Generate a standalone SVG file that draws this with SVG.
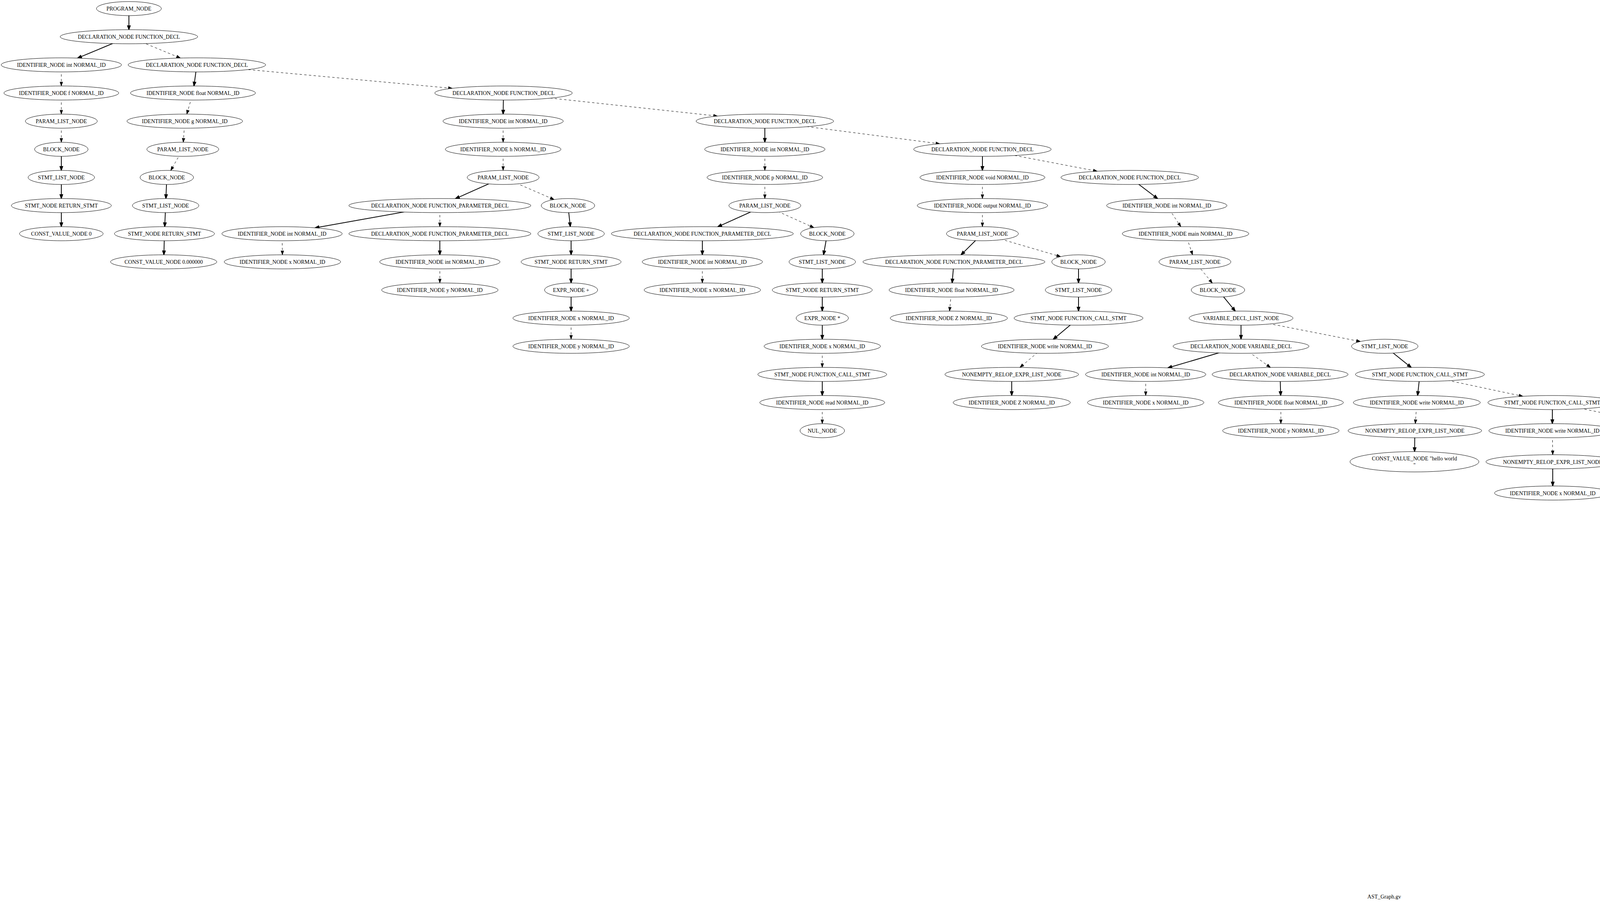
<svg xmlns="http://www.w3.org/2000/svg" width="7087" height="2313" viewBox="0 0 7087 2313">
<style>
.node ellipse{fill:#fff;stroke:#000;stroke-width:1}
.node text,.lbl{font-family:"Liberation Serif","Times New Roman",serif;font-size:14px;text-anchor:middle;fill:#000}
.e{stroke:#000;fill:none}
.s{stroke-width:2;marker-end:url(#as)}
.d{stroke-width:1;stroke-dasharray:6,6;marker-end:url(#ad)}
</style>
<defs>
<marker id="as" markerWidth="10" markerHeight="7" refX="10" refY="3.5" orient="auto" markerUnits="userSpaceOnUse" overflow="visible"><path d="M0,0L10,3.5L0,7z" fill="#000" stroke="#000" stroke-width="2" stroke-linejoin="miter"/></marker>
<marker id="ad" markerWidth="10" markerHeight="7" refX="10" refY="3.5" orient="auto" markerUnits="userSpaceOnUse" overflow="visible"><path d="M0,0L10,3.5L0,7z" fill="#000" stroke="#000" stroke-width="1"/></marker>
</defs>
<rect x="0" y="0" width="7087" height="2313" fill="#fff"/>
<g id="edges">
<line class="e s" x1="330" y1="22" x2="330" y2="76"/>
<line class="e s" x1="330" y1="94" x2="198.6" y2="148.7"/>
<line class="e d" x1="330" y1="94" x2="461.8" y2="148.5"/>
<line class="e d" x1="157" y1="166" x2="157" y2="220"/>
<line class="e d" x1="157" y1="238" x2="157" y2="292"/>
<line class="e d" x1="157" y1="310" x2="157" y2="364"/>
<line class="e s" x1="157" y1="382" x2="157" y2="436"/>
<line class="e s" x1="157" y1="454" x2="157" y2="508"/>
<line class="e s" x1="157" y1="526" x2="157" y2="580"/>
<line class="e s" x1="504" y1="166" x2="496.5" y2="220"/>
<line class="e d" x1="504" y1="166" x2="1158" y2="226"/>
<line class="e d" x1="494" y1="238" x2="478.2" y2="292"/>
<line class="e d" x1="473" y1="310" x2="469.2" y2="364"/>
<line class="e d" x1="468" y1="382" x2="437.1" y2="436.2"/>
<line class="e s" x1="427" y1="454" x2="424.7" y2="508"/>
<line class="e s" x1="424" y1="526" x2="421.7" y2="580"/>
<line class="e s" x1="421" y1="598" x2="419.5" y2="652"/>
<line class="e s" x1="1289" y1="238" x2="1288" y2="292"/>
<line class="e d" x1="1289" y1="238" x2="1836.8" y2="297"/>
<line class="e d" x1="1288" y1="310" x2="1288" y2="364"/>
<line class="e d" x1="1288" y1="382" x2="1288" y2="436"/>
<line class="e s" x1="1288" y1="454" x2="1165.9" y2="508.3"/>
<line class="e d" x1="1288" y1="454" x2="1418.5" y2="510.6"/>
<line class="e s" x1="1126" y1="526" x2="806.5" y2="582.9"/>
<line class="e d" x1="1126" y1="526" x2="1126" y2="580"/>
<line class="e d" x1="722" y1="598" x2="723" y2="652"/>
<line class="e s" x1="1126" y1="598" x2="1126" y2="652"/>
<line class="e d" x1="1126" y1="670" x2="1126" y2="724"/>
<line class="e s" x1="1454" y1="526" x2="1460" y2="580"/>
<line class="e s" x1="1462" y1="598" x2="1462" y2="652"/>
<line class="e s" x1="1462" y1="670" x2="1462" y2="724"/>
<line class="e s" x1="1462" y1="742" x2="1462" y2="796"/>
<line class="e d" x1="1462" y1="814" x2="1462" y2="868"/>
<line class="e s" x1="1958" y1="310" x2="1958" y2="364"/>
<line class="e d" x1="1958" y1="310" x2="2405.8" y2="367.9"/>
<line class="e d" x1="1958" y1="382" x2="1958" y2="436"/>
<line class="e d" x1="1958" y1="454" x2="1958" y2="508"/>
<line class="e s" x1="1958" y1="526" x2="1837.4" y2="580.3"/>
<line class="e d" x1="1958" y1="526" x2="2083.5" y2="582.5"/>
<line class="e s" x1="1798" y1="598" x2="1798" y2="652"/>
<line class="e d" x1="1798" y1="670" x2="1798" y2="724"/>
<line class="e s" x1="2118" y1="598" x2="2108.2" y2="652"/>
<line class="e s" x1="2105" y1="670" x2="2105" y2="724"/>
<line class="e s" x1="2105" y1="742" x2="2105" y2="796"/>
<line class="e s" x1="2105" y1="814" x2="2105" y2="868"/>
<line class="e d" x1="2105" y1="886" x2="2105" y2="940"/>
<line class="e s" x1="2105" y1="958" x2="2105" y2="1012"/>
<line class="e d" x1="2105" y1="1030" x2="2105" y2="1084"/>
<line class="e s" x1="2515" y1="382" x2="2515" y2="436"/>
<line class="e d" x1="2515" y1="382" x2="2808.9" y2="438.1"/>
<line class="e d" x1="2515" y1="454" x2="2515" y2="508"/>
<line class="e d" x1="2515" y1="526" x2="2515" y2="580"/>
<line class="e s" x1="2515" y1="598" x2="2460.2" y2="652.1"/>
<line class="e d" x1="2515" y1="598" x2="2715.2" y2="656.6"/>
<line class="e s" x1="2442" y1="670" x2="2437.5" y2="724"/>
<line class="e d" x1="2436" y1="742" x2="2430.8" y2="796"/>
<line class="e s" x1="2761" y1="670" x2="2761" y2="724"/>
<line class="e s" x1="2761" y1="742" x2="2761" y2="796"/>
<line class="e s" x1="2761" y1="814" x2="2696.3" y2="868.2"/>
<line class="e d" x1="2675" y1="886" x2="2611.1" y2="940.1"/>
<line class="e s" x1="2590" y1="958" x2="2590" y2="1012"/>
<line class="e s" x1="2892" y1="454" x2="2963.5" y2="508.2"/>
<line class="e d" x1="2987" y1="526" x2="3023" y2="580.1"/>
<line class="e d" x1="3035" y1="598" x2="3053" y2="652"/>
<line class="e d" x1="3059" y1="670" x2="3103.6" y2="724.4"/>
<line class="e s" x1="3118" y1="742" x2="3162.3" y2="796.1"/>
<line class="e s" x1="3177" y1="814" x2="3177" y2="868"/>
<line class="e d" x1="3177" y1="814" x2="3482.6" y2="873.8"/>
<line class="e s" x1="3177" y1="886" x2="2989.7" y2="941.3"/>
<line class="e d" x1="3177" y1="886" x2="3252.3" y2="940.2"/>
<line class="e d" x1="2933" y1="958" x2="2933" y2="1012"/>
<line class="e s" x1="3277" y1="958" x2="3278.5" y2="1012"/>
<line class="e d" x1="3279" y1="1030" x2="3279" y2="1084"/>
<line class="e s" x1="3545" y1="886" x2="3612.7" y2="940.2"/>
<line class="e s" x1="3635" y1="958" x2="3629" y2="1012"/>
<line class="e d" x1="3635" y1="958" x2="3898.6" y2="1014"/>
<line class="e d" x1="3627" y1="1030" x2="3623.2" y2="1084"/>
<line class="e s" x1="3622" y1="1102" x2="3621.3" y2="1155.5"/>
<line class="e s" x1="3974" y1="1030" x2="3974" y2="1084"/>
<line class="e d" x1="3974" y1="1030" x2="4248.3" y2="1086.1"/>
<line class="e d" x1="3974" y1="1102" x2="3975" y2="1163.5"/>
<line class="e s" x1="3975" y1="1181.5" x2="3975" y2="1243.5"/>
<line class="e s" x1="4326" y1="1102" x2="4325.2" y2="1163.5"/>
<line class="e d" x1="4326" y1="1102" x2="4602.9" y2="1165.3"/>
<line class="e d" x1="4325" y1="1181.5" x2="4324.2" y2="1243.5"/>
<line class="e s" x1="4324" y1="1261.5" x2="4324" y2="1315.5"/>
<line class="e s" x1="4674" y1="1181.5" x2="4674" y2="1243.5"/>
<line class="e d" x1="4674" y1="1181.5" x2="4952.9" y2="1245.3"/>
<line class="e d" x1="4674" y1="1261.5" x2="4671.7" y2="1315.5"/>
<line class="e s" x1="4671" y1="1333.5" x2="4671" y2="1387.5"/>
<line class="e s" x1="4671" y1="1405.5" x2="4670.2" y2="1459.5"/>
<line class="e d" x1="4670" y1="1477.5" x2="4670" y2="1531.5"/>
<line class="e s" x1="5024" y1="1261.5" x2="5024" y2="1315.5"/>
<line class="e d" x1="5024" y1="1261.5" x2="5294.8" y2="1318.7"/>
<line class="e d" x1="5024" y1="1333.5" x2="5024" y2="1387.5"/>
<line class="e s" x1="5024" y1="1405.5" x2="5018.7" y2="1459.5"/>
<line class="e s" x1="5017" y1="1477.5" x2="5017.8" y2="1531.5"/>
<line class="e d" x1="5018" y1="1549.5" x2="5017.2" y2="1603.5"/>
<line class="e s" x1="5365" y1="1333.5" x2="5365" y2="1387.5"/>
<line class="e d" x1="5365" y1="1333.5" x2="5636.1" y2="1389.6"/>
<line class="e d" x1="5365" y1="1405.5" x2="5365" y2="1459.5"/>
<line class="e s" x1="5365" y1="1477.5" x2="5365" y2="1531.5"/>
<line class="e d" x1="5365" y1="1549.5" x2="5364.2" y2="1603.5"/>
<line class="e s" x1="5713" y1="1405.5" x2="5712.2" y2="1459.5"/>
<line class="e d" x1="5713" y1="1405.5" x2="5979.4" y2="1462.6"/>
<line class="e d" x1="5712" y1="1477.5" x2="5712" y2="1531.5"/>
<line class="e s" x1="5712" y1="1549.5" x2="5712" y2="1603.5"/>
<line class="e s" x1="6049" y1="1477.5" x2="6049" y2="1531.5"/>
<line class="e d" x1="6049" y1="1477.5" x2="6316.7" y2="1533.5"/>
<line class="e d" x1="6049" y1="1549.5" x2="6047.5" y2="1603.5"/>
<line class="e s" x1="6047" y1="1621.5" x2="6047" y2="1675.5"/>
<line class="e d" x1="6047" y1="1693.5" x2="6047" y2="1747.5"/>
<line class="e s" x1="6393" y1="1549.5" x2="6393" y2="1603.5"/>
<line class="e d" x1="6393" y1="1549.5" x2="6667.3" y2="1605.6"/>
<line class="e d" x1="6393" y1="1621.5" x2="6393" y2="1675.5"/>
<line class="e s" x1="6393" y1="1693.5" x2="6393" y2="1747.5"/>
<line class="e s" x1="6745" y1="1621.5" x2="6745" y2="1675.5"/>
<line class="e d" x1="6745" y1="1693.5" x2="6745" y2="1747.5"/>
<line class="e s" x1="6745" y1="1765.5" x2="6745" y2="1819.5"/>
<line class="e s" x1="6745" y1="1837.5" x2="6745" y2="1891.5"/>
<line class="e d" x1="6745" y1="1909.5" x2="6745" y2="1963.5"/>
<line class="e s" x1="6745" y1="1981.5" x2="6745" y2="2035.5"/>
<line class="e s" x1="6745" y1="2053.5" x2="6615.3" y2="2108.1"/>
<line class="e d" x1="6745" y1="2053.5" x2="6875.4" y2="2108.1"/>
<line class="e d" x1="6574" y1="2125.5" x2="6574" y2="2179.5"/>
<line class="e s" x1="6917" y1="2125.5" x2="6917" y2="2179.5"/>
<line class="e d" x1="6917" y1="2197.5" x2="6917" y2="2251.5"/>
</g>
<g id="n0" class="node"><ellipse cx="330" cy="22" rx="83" ry="18"/><text x="330" y="27">PROGRAM_NODE</text></g>
<g id="n1" class="node"><ellipse cx="330" cy="94" rx="176" ry="18"/><text x="330" y="99">DECLARATION_NODE FUNCTION_DECL</text></g>
<g id="n2" class="node"><ellipse cx="157" cy="166" rx="154" ry="18"/><text x="157" y="171">IDENTIFIER_NODE int NORMAL_ID</text></g>
<g id="n3" class="node"><ellipse cx="504" cy="166" rx="176" ry="18"/><text x="504" y="171">DECLARATION_NODE FUNCTION_DECL</text></g>
<g id="n4" class="node"><ellipse cx="157" cy="238" rx="147" ry="18"/><text x="157" y="243">IDENTIFIER_NODE f NORMAL_ID</text></g>
<g id="n5" class="node"><ellipse cx="494" cy="238" rx="160" ry="18"/><text x="494" y="243">IDENTIFIER_NODE float NORMAL_ID</text></g>
<g id="n6" class="node"><ellipse cx="1289" cy="238" rx="176" ry="18"/><text x="1289" y="243">DECLARATION_NODE FUNCTION_DECL</text></g>
<g id="n7" class="node"><ellipse cx="157" cy="310" rx="92" ry="18"/><text x="157" y="315">PARAM_LIST_NODE</text></g>
<g id="n8" class="node"><ellipse cx="473" cy="310" rx="148" ry="18"/><text x="473" y="315">IDENTIFIER_NODE g NORMAL_ID</text></g>
<g id="n9" class="node"><ellipse cx="1288" cy="310" rx="154" ry="18"/><text x="1288" y="315">IDENTIFIER_NODE int NORMAL_ID</text></g>
<g id="n10" class="node"><ellipse cx="1958" cy="310" rx="176" ry="18"/><text x="1958" y="315">DECLARATION_NODE FUNCTION_DECL</text></g>
<g id="n11" class="node"><ellipse cx="157" cy="382" rx="68.5" ry="18"/><text x="157" y="387">BLOCK_NODE</text></g>
<g id="n12" class="node"><ellipse cx="468" cy="382" rx="92" ry="18"/><text x="468" y="387">PARAM_LIST_NODE</text></g>
<g id="n13" class="node"><ellipse cx="1288" cy="382" rx="148" ry="18"/><text x="1288" y="387">IDENTIFIER_NODE h NORMAL_ID</text></g>
<g id="n14" class="node"><ellipse cx="1958" cy="382" rx="154" ry="18"/><text x="1958" y="387">IDENTIFIER_NODE int NORMAL_ID</text></g>
<g id="n15" class="node"><ellipse cx="2515" cy="382" rx="176" ry="18"/><text x="2515" y="387">DECLARATION_NODE FUNCTION_DECL</text></g>
<g id="n16" class="node"><ellipse cx="157" cy="454" rx="85" ry="18"/><text x="157" y="459">STMT_LIST_NODE</text></g>
<g id="n17" class="node"><ellipse cx="427" cy="454" rx="68.5" ry="18"/><text x="427" y="459">BLOCK_NODE</text></g>
<g id="n18" class="node"><ellipse cx="1288" cy="454" rx="92" ry="18"/><text x="1288" y="459">PARAM_LIST_NODE</text></g>
<g id="n19" class="node"><ellipse cx="1958" cy="454" rx="148" ry="18"/><text x="1958" y="459">IDENTIFIER_NODE p NORMAL_ID</text></g>
<g id="n20" class="node"><ellipse cx="2515" cy="454" rx="160" ry="18"/><text x="2515" y="459">IDENTIFIER_NODE void NORMAL_ID</text></g>
<g id="n21" class="node"><ellipse cx="2892" cy="454" rx="176" ry="18"/><text x="2892" y="459">DECLARATION_NODE FUNCTION_DECL</text></g>
<g id="n22" class="node"><ellipse cx="157" cy="526" rx="128" ry="18"/><text x="157" y="531">STMT_NODE RETURN_STMT</text></g>
<g id="n23" class="node"><ellipse cx="424" cy="526" rx="85" ry="18"/><text x="424" y="531">STMT_LIST_NODE</text></g>
<g id="n24" class="node"><ellipse cx="1126" cy="526" rx="233" ry="18"/><text x="1126" y="531">DECLARATION_NODE FUNCTION_PARAMETER_DECL</text></g>
<g id="n25" class="node"><ellipse cx="1454" cy="526" rx="68.5" ry="18"/><text x="1454" y="531">BLOCK_NODE</text></g>
<g id="n26" class="node"><ellipse cx="1958" cy="526" rx="92" ry="18"/><text x="1958" y="531">PARAM_LIST_NODE</text></g>
<g id="n27" class="node"><ellipse cx="2515" cy="526" rx="167" ry="18"/><text x="2515" y="531">IDENTIFIER_NODE output NORMAL_ID</text></g>
<g id="n28" class="node"><ellipse cx="2987" cy="526" rx="154" ry="18"/><text x="2987" y="531">IDENTIFIER_NODE int NORMAL_ID</text></g>
<g id="n29" class="node"><ellipse cx="157" cy="598" rx="107" ry="18"/><text x="157" y="603">CONST_VALUE_NODE 0</text></g>
<g id="n30" class="node"><ellipse cx="421" cy="598" rx="128" ry="18"/><text x="421" y="603">STMT_NODE RETURN_STMT</text></g>
<g id="n31" class="node"><ellipse cx="722" cy="598" rx="154" ry="18"/><text x="722" y="603">IDENTIFIER_NODE int NORMAL_ID</text></g>
<g id="n32" class="node"><ellipse cx="1126" cy="598" rx="233" ry="18"/><text x="1126" y="603">DECLARATION_NODE FUNCTION_PARAMETER_DECL</text></g>
<g id="n33" class="node"><ellipse cx="1462" cy="598" rx="85" ry="18"/><text x="1462" y="603">STMT_LIST_NODE</text></g>
<g id="n34" class="node"><ellipse cx="1798" cy="598" rx="233" ry="18"/><text x="1798" y="603">DECLARATION_NODE FUNCTION_PARAMETER_DECL</text></g>
<g id="n35" class="node"><ellipse cx="2118" cy="598" rx="68.5" ry="18"/><text x="2118" y="603">BLOCK_NODE</text></g>
<g id="n36" class="node"><ellipse cx="2515" cy="598" rx="92" ry="18"/><text x="2515" y="603">PARAM_LIST_NODE</text></g>
<g id="n37" class="node"><ellipse cx="3035" cy="598" rx="162" ry="18"/><text x="3035" y="603">IDENTIFIER_NODE main NORMAL_ID</text></g>
<g id="n38" class="node"><ellipse cx="419" cy="670" rx="136" ry="18"/><text x="419" y="675">CONST_VALUE_NODE 0.000000</text></g>
<g id="n39" class="node"><ellipse cx="723" cy="670" rx="149" ry="18"/><text x="723" y="675">IDENTIFIER_NODE x NORMAL_ID</text></g>
<g id="n40" class="node"><ellipse cx="1126" cy="670" rx="154" ry="18"/><text x="1126" y="675">IDENTIFIER_NODE int NORMAL_ID</text></g>
<g id="n41" class="node"><ellipse cx="1462" cy="670" rx="128" ry="18"/><text x="1462" y="675">STMT_NODE RETURN_STMT</text></g>
<g id="n42" class="node"><ellipse cx="1798" cy="670" rx="154" ry="18"/><text x="1798" y="675">IDENTIFIER_NODE int NORMAL_ID</text></g>
<g id="n43" class="node"><ellipse cx="2105" cy="670" rx="85" ry="18"/><text x="2105" y="675">STMT_LIST_NODE</text></g>
<g id="n44" class="node"><ellipse cx="2442" cy="670" rx="233" ry="18"/><text x="2442" y="675">DECLARATION_NODE FUNCTION_PARAMETER_DECL</text></g>
<g id="n45" class="node"><ellipse cx="2761" cy="670" rx="68.5" ry="18"/><text x="2761" y="675">BLOCK_NODE</text></g>
<g id="n46" class="node"><ellipse cx="3059" cy="670" rx="92" ry="18"/><text x="3059" y="675">PARAM_LIST_NODE</text></g>
<g id="n47" class="node"><ellipse cx="1126" cy="742" rx="149" ry="18"/><text x="1126" y="747">IDENTIFIER_NODE y NORMAL_ID</text></g>
<g id="n48" class="node"><ellipse cx="1462" cy="742" rx="68" ry="18"/><text x="1462" y="747">EXPR_NODE +</text></g>
<g id="n49" class="node"><ellipse cx="1798" cy="742" rx="149" ry="18"/><text x="1798" y="747">IDENTIFIER_NODE x NORMAL_ID</text></g>
<g id="n50" class="node"><ellipse cx="2105" cy="742" rx="128" ry="18"/><text x="2105" y="747">STMT_NODE RETURN_STMT</text></g>
<g id="n51" class="node"><ellipse cx="2436" cy="742" rx="160" ry="18"/><text x="2436" y="747">IDENTIFIER_NODE float NORMAL_ID</text></g>
<g id="n52" class="node"><ellipse cx="2761" cy="742" rx="85" ry="18"/><text x="2761" y="747">STMT_LIST_NODE</text></g>
<g id="n53" class="node"><ellipse cx="3118" cy="742" rx="68.5" ry="18"/><text x="3118" y="747">BLOCK_NODE</text></g>
<g id="n54" class="node"><ellipse cx="1462" cy="814" rx="149" ry="18"/><text x="1462" y="819">IDENTIFIER_NODE x NORMAL_ID</text></g>
<g id="n55" class="node"><ellipse cx="2105" cy="814" rx="67" ry="18"/><text x="2105" y="819">EXPR_NODE *</text></g>
<g id="n56" class="node"><ellipse cx="2429" cy="814" rx="150" ry="18"/><text x="2429" y="819">IDENTIFIER_NODE Z NORMAL_ID</text></g>
<g id="n57" class="node"><ellipse cx="2761" cy="814" rx="165" ry="18"/><text x="2761" y="819">STMT_NODE FUNCTION_CALL_STMT</text></g>
<g id="n58" class="node"><ellipse cx="3177" cy="814" rx="133" ry="18"/><text x="3177" y="819">VARIABLE_DECL_LIST_NODE</text></g>
<g id="n59" class="node"><ellipse cx="1462" cy="886" rx="149" ry="18"/><text x="1462" y="891">IDENTIFIER_NODE y NORMAL_ID</text></g>
<g id="n60" class="node"><ellipse cx="2105" cy="886" rx="149" ry="18"/><text x="2105" y="891">IDENTIFIER_NODE x NORMAL_ID</text></g>
<g id="n61" class="node"><ellipse cx="2675" cy="886" rx="162.5" ry="18"/><text x="2675" y="891">IDENTIFIER_NODE write NORMAL_ID</text></g>
<g id="n62" class="node"><ellipse cx="3177" cy="886" rx="174" ry="18"/><text x="3177" y="891">DECLARATION_NODE VARIABLE_DECL</text></g>
<g id="n63" class="node"><ellipse cx="3545" cy="886" rx="85" ry="18"/><text x="3545" y="891">STMT_LIST_NODE</text></g>
<g id="n64" class="node"><ellipse cx="2105" cy="958" rx="165" ry="18"/><text x="2105" y="963">STMT_NODE FUNCTION_CALL_STMT</text></g>
<g id="n65" class="node"><ellipse cx="2590" cy="958" rx="171" ry="18"/><text x="2590" y="963">NONEMPTY_RELOP_EXPR_LIST_NODE</text></g>
<g id="n66" class="node"><ellipse cx="2933" cy="958" rx="154" ry="18"/><text x="2933" y="963">IDENTIFIER_NODE int NORMAL_ID</text></g>
<g id="n67" class="node"><ellipse cx="3277" cy="958" rx="174" ry="18"/><text x="3277" y="963">DECLARATION_NODE VARIABLE_DECL</text></g>
<g id="n68" class="node"><ellipse cx="3635" cy="958" rx="165" ry="18"/><text x="3635" y="963">STMT_NODE FUNCTION_CALL_STMT</text></g>
<g id="n69" class="node"><ellipse cx="2105" cy="1030" rx="160" ry="18"/><text x="2105" y="1035">IDENTIFIER_NODE read NORMAL_ID</text></g>
<g id="n70" class="node"><ellipse cx="2590" cy="1030" rx="150" ry="18"/><text x="2590" y="1035">IDENTIFIER_NODE Z NORMAL_ID</text></g>
<g id="n71" class="node"><ellipse cx="2933" cy="1030" rx="149" ry="18"/><text x="2933" y="1035">IDENTIFIER_NODE x NORMAL_ID</text></g>
<g id="n72" class="node"><ellipse cx="3279" cy="1030" rx="160" ry="18"/><text x="3279" y="1035">IDENTIFIER_NODE float NORMAL_ID</text></g>
<g id="n73" class="node"><ellipse cx="3627" cy="1030" rx="162.5" ry="18"/><text x="3627" y="1035">IDENTIFIER_NODE write NORMAL_ID</text></g>
<g id="n74" class="node"><ellipse cx="3974" cy="1030" rx="165" ry="18"/><text x="3974" y="1035">STMT_NODE FUNCTION_CALL_STMT</text></g>
<g id="n75" class="node"><ellipse cx="2105" cy="1102" rx="57" ry="18"/><text x="2105" y="1107">NUL_NODE</text></g>
<g id="n76" class="node"><ellipse cx="3279" cy="1102" rx="149" ry="18"/><text x="3279" y="1107">IDENTIFIER_NODE y NORMAL_ID</text></g>
<g id="n77" class="node"><ellipse cx="3622" cy="1102" rx="171" ry="18"/><text x="3622" y="1107">NONEMPTY_RELOP_EXPR_LIST_NODE</text></g>
<g id="n78" class="node"><ellipse cx="3974" cy="1102" rx="162.5" ry="18"/><text x="3974" y="1107">IDENTIFIER_NODE write NORMAL_ID</text></g>
<g id="n79" class="node"><ellipse cx="4326" cy="1102" rx="165" ry="18"/><text x="4326" y="1107">STMT_NODE FUNCTION_CALL_STMT</text></g>
<g id="n80" class="node"><ellipse cx="3621" cy="1181.5" rx="165" ry="26"/><text x="3621" y="1178">CONST_VALUE_NODE "hello world</text><text x="3621" y="1195">"</text></g>
<g id="n81" class="node"><ellipse cx="3975" cy="1181.5" rx="171" ry="18"/><text x="3975" y="1186.5">NONEMPTY_RELOP_EXPR_LIST_NODE</text></g>
<g id="n82" class="node"><ellipse cx="4325" cy="1181.5" rx="162.5" ry="18"/><text x="4325" y="1186.5">IDENTIFIER_NODE write NORMAL_ID</text></g>
<g id="n83" class="node"><ellipse cx="4674" cy="1181.5" rx="165" ry="18"/><text x="4674" y="1186.5">STMT_NODE FUNCTION_CALL_STMT</text></g>
<g id="n84" class="node"><ellipse cx="3975" cy="1261.5" rx="149" ry="18"/><text x="3975" y="1266.5">IDENTIFIER_NODE x NORMAL_ID</text></g>
<g id="n85" class="node"><ellipse cx="4324" cy="1261.5" rx="171" ry="18"/><text x="4324" y="1266.5">NONEMPTY_RELOP_EXPR_LIST_NODE</text></g>
<g id="n86" class="node"><ellipse cx="4674" cy="1261.5" rx="162.5" ry="18"/><text x="4674" y="1266.5">IDENTIFIER_NODE write NORMAL_ID</text></g>
<g id="n87" class="node"><ellipse cx="5024" cy="1261.5" rx="165" ry="18"/><text x="5024" y="1266.5">STMT_NODE FUNCTION_CALL_STMT</text></g>
<g id="n88" class="node"><ellipse cx="4324" cy="1333.5" rx="149" ry="18"/><text x="4324" y="1338.5">IDENTIFIER_NODE y NORMAL_ID</text></g>
<g id="n89" class="node"><ellipse cx="4671" cy="1333.5" rx="171" ry="18"/><text x="4671" y="1338.5">NONEMPTY_RELOP_EXPR_LIST_NODE</text></g>
<g id="n90" class="node"><ellipse cx="5024" cy="1333.5" rx="162.5" ry="18"/><text x="5024" y="1338.5">IDENTIFIER_NODE write NORMAL_ID</text></g>
<g id="n91" class="node"><ellipse cx="5365" cy="1333.5" rx="124" ry="18"/><text x="5365" y="1338.5">STMT_NODE ASSIGN_STMT</text></g>
<g id="n92" class="node"><ellipse cx="4671" cy="1405.5" rx="165" ry="18"/><text x="4671" y="1410.5">STMT_NODE FUNCTION_CALL_STMT</text></g>
<g id="n93" class="node"><ellipse cx="5024" cy="1405.5" rx="171" ry="18"/><text x="5024" y="1410.5">NONEMPTY_RELOP_EXPR_LIST_NODE</text></g>
<g id="n94" class="node"><ellipse cx="5365" cy="1405.5" rx="149" ry="18"/><text x="5365" y="1410.5">IDENTIFIER_NODE x NORMAL_ID</text></g>
<g id="n95" class="node"><ellipse cx="5713" cy="1405.5" rx="165" ry="18"/><text x="5713" y="1410.5">STMT_NODE FUNCTION_CALL_STMT</text></g>
<g id="n96" class="node"><ellipse cx="4670" cy="1477.5" rx="147" ry="18"/><text x="4670" y="1482.5">IDENTIFIER_NODE f NORMAL_ID</text></g>
<g id="n97" class="node"><ellipse cx="5017" cy="1477.5" rx="165" ry="18"/><text x="5017" y="1482.5">STMT_NODE FUNCTION_CALL_STMT</text></g>
<g id="n98" class="node"><ellipse cx="5365" cy="1477.5" rx="165" ry="18"/><text x="5365" y="1482.5">STMT_NODE FUNCTION_CALL_STMT</text></g>
<g id="n99" class="node"><ellipse cx="5712" cy="1477.5" rx="162.5" ry="18"/><text x="5712" y="1482.5">IDENTIFIER_NODE write NORMAL_ID</text></g>
<g id="n100" class="node"><ellipse cx="6049" cy="1477.5" rx="124" ry="18"/><text x="6049" y="1482.5">STMT_NODE ASSIGN_STMT</text></g>
<g id="n101" class="node"><ellipse cx="4670" cy="1549.5" rx="57" ry="18"/><text x="4670" y="1554.5">NUL_NODE</text></g>
<g id="n102" class="node"><ellipse cx="5018" cy="1549.5" rx="148" ry="18"/><text x="5018" y="1554.5">IDENTIFIER_NODE g NORMAL_ID</text></g>
<g id="n103" class="node"><ellipse cx="5365" cy="1549.5" rx="160" ry="18"/><text x="5365" y="1554.5">IDENTIFIER_NODE read NORMAL_ID</text></g>
<g id="n104" class="node"><ellipse cx="5712" cy="1549.5" rx="171" ry="18"/><text x="5712" y="1554.5">NONEMPTY_RELOP_EXPR_LIST_NODE</text></g>
<g id="n105" class="node"><ellipse cx="6049" cy="1549.5" rx="149" ry="18"/><text x="6049" y="1554.5">IDENTIFIER_NODE y NORMAL_ID</text></g>
<g id="n106" class="node"><ellipse cx="6393" cy="1549.5" rx="165" ry="18"/><text x="6393" y="1554.5">STMT_NODE FUNCTION_CALL_STMT</text></g>
<g id="n107" class="node"><ellipse cx="5017" cy="1621.5" rx="57" ry="18"/><text x="5017" y="1626.5">NUL_NODE</text></g>
<g id="n108" class="node"><ellipse cx="5364" cy="1621.5" rx="57" ry="18"/><text x="5364" y="1626.5">NUL_NODE</text></g>
<g id="n109" class="node"><ellipse cx="5712" cy="1621.5" rx="149" ry="18"/><text x="5712" y="1626.5">IDENTIFIER_NODE x NORMAL_ID</text></g>
<g id="n110" class="node"><ellipse cx="6047" cy="1621.5" rx="165" ry="18"/><text x="6047" y="1626.5">STMT_NODE FUNCTION_CALL_STMT</text></g>
<g id="n111" class="node"><ellipse cx="6393" cy="1621.5" rx="162.5" ry="18"/><text x="6393" y="1626.5">IDENTIFIER_NODE write NORMAL_ID</text></g>
<g id="n112" class="node"><ellipse cx="6745" cy="1621.5" rx="165" ry="18"/><text x="6745" y="1626.5">STMT_NODE FUNCTION_CALL_STMT</text></g>
<g id="n113" class="node"><ellipse cx="6047" cy="1693.5" rx="160" ry="18"/><text x="6047" y="1698.5">IDENTIFIER_NODE read NORMAL_ID</text></g>
<g id="n114" class="node"><ellipse cx="6393" cy="1693.5" rx="171" ry="18"/><text x="6393" y="1698.5">NONEMPTY_RELOP_EXPR_LIST_NODE</text></g>
<g id="n115" class="node"><ellipse cx="6745" cy="1693.5" rx="162.5" ry="18"/><text x="6745" y="1698.5">IDENTIFIER_NODE write NORMAL_ID</text></g>
<g id="n116" class="node"><ellipse cx="6047" cy="1765.5" rx="57" ry="18"/><text x="6047" y="1770.5">NUL_NODE</text></g>
<g id="n117" class="node"><ellipse cx="6393" cy="1765.5" rx="149" ry="18"/><text x="6393" y="1770.5">IDENTIFIER_NODE y NORMAL_ID</text></g>
<g id="n118" class="node"><ellipse cx="6745" cy="1765.5" rx="171" ry="18"/><text x="6745" y="1770.5">NONEMPTY_RELOP_EXPR_LIST_NODE</text></g>
<g id="n119" class="node"><ellipse cx="6745" cy="1837.5" rx="165" ry="18"/><text x="6745" y="1842.5">STMT_NODE FUNCTION_CALL_STMT</text></g>
<g id="n120" class="node"><ellipse cx="6745" cy="1909.5" rx="148" ry="18"/><text x="6745" y="1914.5">IDENTIFIER_NODE h NORMAL_ID</text></g>
<g id="n121" class="node"><ellipse cx="6745" cy="1981.5" rx="171" ry="18"/><text x="6745" y="1986.5">NONEMPTY_RELOP_EXPR_LIST_NODE</text></g>
<g id="n122" class="node"><ellipse cx="6745" cy="2053.5" rx="165" ry="18"/><text x="6745" y="2058.5">STMT_NODE FUNCTION_CALL_STMT</text></g>
<g id="n123" class="node"><ellipse cx="6574" cy="2125.5" rx="160" ry="18"/><text x="6574" y="2130.5">IDENTIFIER_NODE read NORMAL_ID</text></g>
<g id="n124" class="node"><ellipse cx="6917" cy="2125.5" rx="165" ry="18"/><text x="6917" y="2130.5">STMT_NODE FUNCTION_CALL_STMT</text></g>
<g id="n125" class="node"><ellipse cx="6574" cy="2197.5" rx="57" ry="18"/><text x="6574" y="2202.5">NUL_NODE</text></g>
<g id="n126" class="node"><ellipse cx="6917" cy="2197.5" rx="160" ry="18"/><text x="6917" y="2202.5">IDENTIFIER_NODE read NORMAL_ID</text></g>
<g id="n127" class="node"><ellipse cx="6917" cy="2269.5" rx="57" ry="18"/><text x="6917" y="2274.5">NUL_NODE</text></g>
<text id="graph-label" class="lbl" x="3543.5" y="2299">AST_Graph.gv</text>
</svg>
